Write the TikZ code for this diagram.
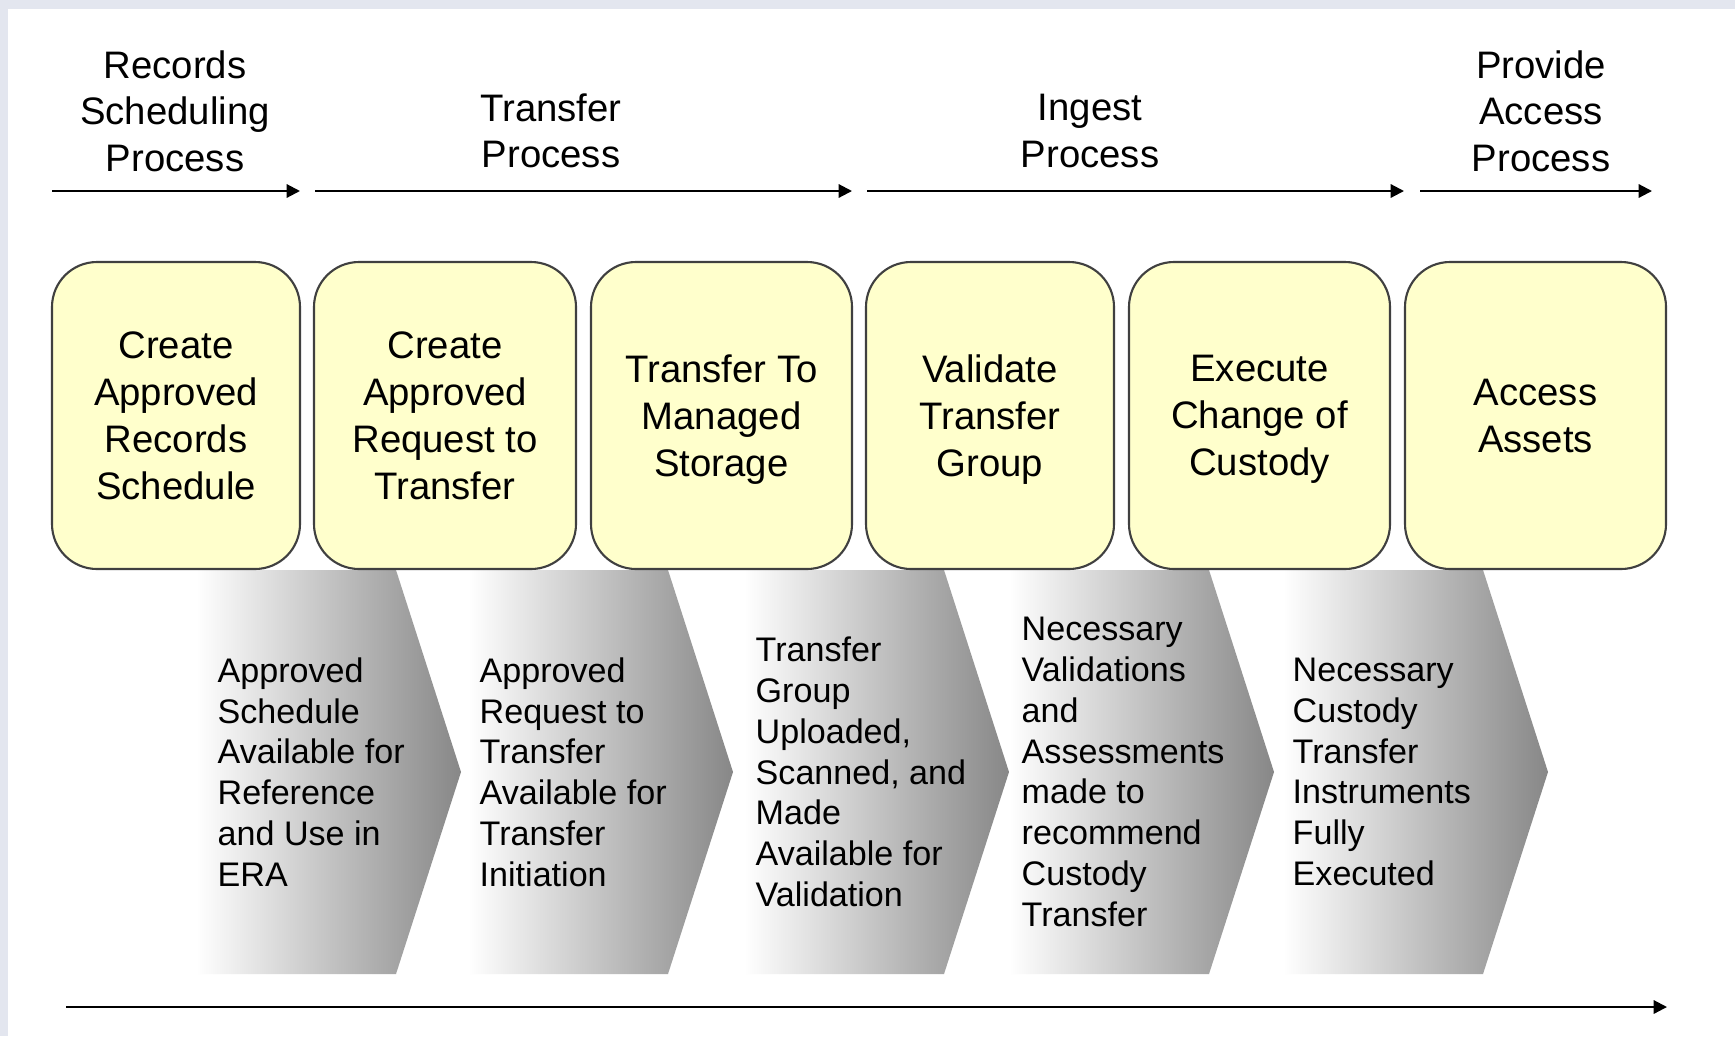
\documentclass[tikz,border=0pt]{standalone}
\usepackage{fontspec}
\setsansfont{Liberation Sans}
\usetikzlibrary{positioning, arrows.meta}
\definecolor{framegray}{HTML}{E3E6EF}
\definecolor{taskyellow}{HTML}{FFFFCC}

\begin{document}
\begin{tikzpicture}[
    % GLOBAL CFG
    font=\sffamily\fontsize{10.9}{13.2}\selectfont,
    >={Triangle[length=3.8pt,width=3.8pt]},
    % Styles
    task/.style={% For yellow process boxes
        rectangle,
        rounded corners=4.5mm,
        draw=black!75,
        line width=.6pt,
        fill=taskyellow,
        minimum height=3.07cm,
        text depth=0pt,
        align=center,
        font=\sffamily\fontsize{10.9}{13.4}\selectfont,
    },
    phase/.style={% For process names on top
        align=center,
        inner sep=0pt,
    },
    outcome/.style={% For texts on the grey chevrons
        anchor=west,
        align=left,
        inner sep=0pt,
        font=\sffamily\fontsize{9.7}{11.6}\selectfont,
    },
    chevron/.style={% For grey chevrons
        left color=white,
        right color=black!47,
    },
    timeline/.style={% For process arrows
        ->,
        line width=.6pt,
    },
    ]
    % Frame
    \fill[framegray] (0,0) rectangle (17.35,-10.36);
    \fill[white] (0.08,-0.09) rectangle (17.35,-10.36);

    % Coordinates
    \coordinate (rs1) at (0.52,-1.91);
    \coordinate (rs2) at (3.00,-1.91);
    \coordinate (tp1) at (3.15,-1.91);
    \coordinate (tp2) at (8.52,-1.91);
    \coordinate (ip1) at (8.67,-1.91);
    \coordinate (ip2) at (14.04,-1.91);
    \coordinate (ap1) at (14.20,-1.91);
    \coordinate (ap2) at (16.52,-1.91);
    \coordinate (time1) at (0.66,-10.07);
    \coordinate (time2) at (16.67,-10.07);

    % Draw chevrons
    \foreach \r in {3.96,6.68,9.44,12.09,14.83}
        \shade[chevron] (\r-2,-5.70) -- (\r,-5.70) -- (\r+.65,-7.72)
            -- (\r,-9.74) -- (\r-2,-9.74) -- cycle;

    % Draw process names named ph#
    \node[phase] (ph1) at (1.75,-1.11) {Records\\Scheduling\\Process};
    \node[phase] (ph2) at (5.51,-1.31) {Transfer\\Process};
    \node[phase] (ph3) at (10.90,-1.31) {Ingest\\Process};
    \node[phase] (ph4) at (15.41,-1.11) {Provide\\Access\\Process};

    % Draw boxes named task#
    \node[task, minimum width=2.48cm] (task1) at (1.76,-4.155) {Create\\Approved\\Records\\Schedule};
    \node[task, minimum width=2.62cm] (task2) at (4.45,-4.155) {Create\\Approved\\Request to\\Transfer};
    \node[task, minimum width=2.61cm] (task3) at (7.215,-4.155) {Transfer To\\Managed\\Storage};
    \node[task, minimum width=2.48cm] (task4) at (9.90,-4.155) {Validate\\Transfer\\Group};
    \node[task, minimum width=2.61cm] (task5) at (12.595,-4.155) {Execute\\Change of\\Custody};
    \node[task, minimum width=2.61cm] (task6) at (15.355,-4.155) {Access\\Assets};

    % Draw outcomes named out#
    \node[outcome] (out1) at (2.17,-7.72) {Approved\\Schedule\\Available for\\Reference\\and Use in\\ERA};
    \node[outcome] (out2) at (4.79,-7.72) {Approved\\Request to\\Transfer\\Available for\\Transfer\\Initiation};
    \node[outcome] (out3) at (7.55,-7.72) {Transfer\\Group\\Uploaded,\\Scanned, and\\Made\\Available for\\Validation};
    \node[outcome] (out4) at (10.21,-7.72) {Necessary\\Validations\\and\\Assessments\\made to\\recommend\\Custody\\Transfer};
    \node[outcome] (out5) at (12.92,-7.72) {Necessary\\Custody\\Transfer\\Instruments\\Fully\\Executed};

    % Arrows
    \draw[timeline] (rs1) -- (rs2);
    \draw[timeline] (tp1) -- (tp2);
    \draw[timeline] (ip1) -- (ip2);
    \draw[timeline] (ap1) -- (ap2);
    \draw[timeline] (time1) -- (time2);

\end{tikzpicture}
\end{document}
